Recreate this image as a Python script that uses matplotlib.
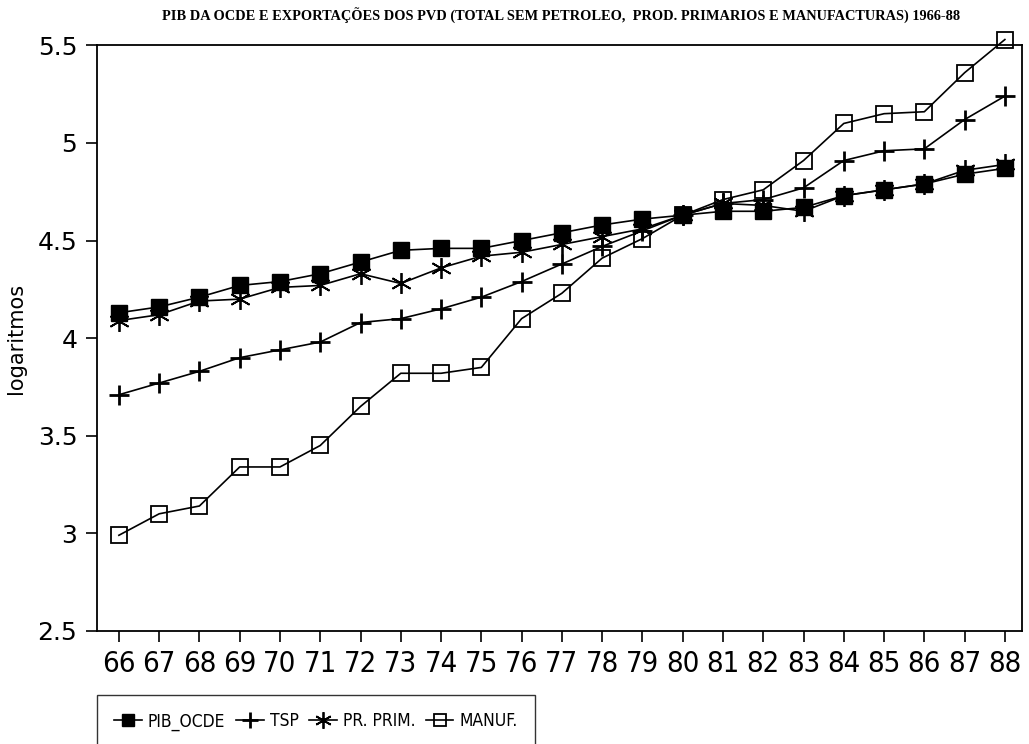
import matplotlib.pyplot as plt
from matplotlib import font_manager

years = list(range(66, 89))
year_labels = [str(y) for y in years]

pib_ocde = [4.13, 4.16, 4.21, 4.27, 4.29, 4.33, 4.39, 4.45, 4.46, 4.46, 4.50, 4.54,
            4.58, 4.61, 4.63, 4.65, 4.65, 4.67, 4.73, 4.76, 4.79, 4.84, 4.87]
tsp = [3.71, 3.77, 3.83, 3.90, 3.94, 3.98, 4.08, 4.10, 4.15, 4.21, 4.29, 4.38,
       4.47, 4.55, 4.63, 4.69, 4.71, 4.77, 4.91, 4.96, 4.97, 5.12, 5.24]
pr_prim = [4.09, 4.12, 4.19, 4.20, 4.26, 4.27, 4.33, 4.28, 4.36, 4.42, 4.44, 4.48,
           4.52, 4.56, 4.63, 4.69, 4.68, 4.65, 4.73, 4.76, 4.79, 4.86, 4.89]
manuf = [2.99, 3.10, 3.14, 3.34, 3.34, 3.45, 3.65, 3.82, 3.82, 3.85, 4.10, 4.23,
         4.41, 4.51, 4.63, 4.71, 4.76, 4.91, 5.10, 5.15, 5.16, 5.36, 5.53]

y_ticks = [2.5, 3, 3.5, 4, 4.5, 5, 5.5]
y_tick_labels = ['2.5', '3', '3.5', '4', '4.5', '5', '5.5']

title = "PIB DA OCDE E EXPORTAÇÕES DOS PVD (TOTAL SEM PETROLEO,  PROD. PRIMARIOS E MANUFACTURAS) 1966-88"

# condensed sans if it is installed, else plain DejaVu Sans
cond = font_manager.FontProperties(family='DejaVu Sans', stretch='condensed')
has_cond = 'Condensed' in font_manager.findfont(cond)

fig = plt.figure(figsize=(10.29, 7.44), dpi=100)
ax = fig.add_axes([0.094, 0.152, 0.899, 0.787])

ax.plot(years, pib_ocde, c='black', lw=1.2, marker='s', ms=11, mfc='black', mec='black',
        label='PIB_OCDE', clip_on=False)
ax.plot(years, tsp, c='black', lw=1.2, marker='+', ms=15, mew=2,
        label='TSP', clip_on=False)
ax.plot(years, pr_prim, c='black', lw=1.2, marker=(6, 2, 0), ms=15, mew=1.3,
        label='PR. PRIM.', clip_on=False)
ax.plot(years, manuf, c='black', lw=1.2, marker='s', ms=11, mfc='none', mec='black', mew=1.3,
        label='MANUF.', clip_on=False)

ax.set_xlim(65.45, 88.42)
ax.set_ylim(2.5, 5.5)
ax.set_xticks(years)
ax.set_xticklabels(year_labels, fontsize=21 if has_cond else 19, stretch='condensed')
ax.set_yticks(y_ticks)
ax.set_yticklabels(y_tick_labels, fontsize=18)
ax.tick_params(axis='x', length=8, width=1.2, pad=6)
ax.tick_params(axis='y', length=8, width=1.2, pad=6)
for s in ax.spines.values():
    s.set_linewidth(1.3)

ax.set_ylabel("logaritmos", fontsize=15, labelpad=8)
fig.text(0.545, 0.978, title, ha='center', va='center', fontsize=10.4,
         family='Liberation Serif', fontweight='bold')

fig.legend(loc='upper left', bbox_to_anchor=(0.094, 0.066), ncol=4, frameon=True,
           fancybox=False, edgecolor='black',
           prop={'family': 'DejaVu Sans', 'stretch': 'condensed', 'size': 12.5 if has_cond else 11},
           markerscale=0.8, handlelength=1.6, columnspacing=0.6, borderpad=1.0,
           handletextpad=0.35, borderaxespad=0)

plt.savefig('out.png', dpi=100)
